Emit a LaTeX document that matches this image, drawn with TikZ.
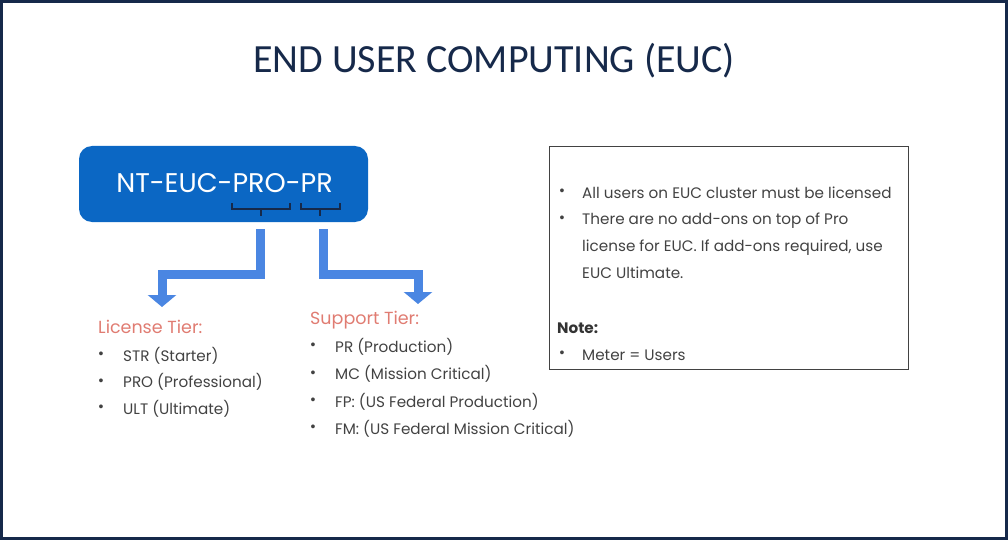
\documentclass[tikz,border=0pt]{standalone}
\usepackage{fontspec}
\setmainfont{Poppins}
\newfontfamily\titlefont{Carlito}
\newfontfamily\dotfont{Liberation Sans}
\usetikzlibrary{arrows.meta, positioning}

\definecolor{navy}{HTML}{16294A}
\definecolor{skublue}{HTML}{0B67C4}
\definecolor{flowblue}{HTML}{4A86E2}
\definecolor{tiersalmon}{HTML}{E07C72}
\definecolor{bodygray}{HTML}{424242}

\begin{document}
\begin{tikzpicture}[
    x=1pt, y=-1pt,
    every node/.style={inner sep=0pt, text=bodygray},
    item/.style={anchor=base west, font=\fontsize{15.2}{18}\selectfont},
    dot/.style={anchor=base, font=\dotfont\fontsize{14}{16}\selectfont},
    tier/.style={anchor=base west, text=tiersalmon, font=\fontsize{17.5}{20}\selectfont},
    flow/.style={draw=flowblue, line width=9pt, -{Triangle[width=28pt, length=12pt]}},
    brace/.style={draw=navy, line width=2.4pt}
]

\useasboundingbox (0,0) rectangle (1008,540);
\draw[navy, line width=3pt] (1.5,1.5) rectangle (1006.5,538.5);

% title
\node (title) [anchor=base, text=navy, font=\titlefont\fontsize{40}{46}\selectfont] at (494,73) {END USER COMPUTING (EUC)};

% part number
\node (sku) [fill=skublue, rounded corners=13pt, minimum width=289pt, minimum height=76pt] at (223.5,184) {};
\node (skutext) [anchor=base, text=white, font=\fontsize{27}{30}\selectfont] at (224.5,193) {NT-EUC-PRO-PR};

\draw[brace] (232,203) -- (232,209) -- (290,209) -- (290,203) (261,209) -- (261,216);
\draw[brace] (301,203) -- (301,209) -- (340,209) -- (340,203) (320,209) -- (320,216);

\coordinate (licstart) at (260.5,229);
\coordinate (lictip) at (162,307);
\coordinate (supstart) at (323,229);
\coordinate (suptip) at (418,304);

\draw[flow] (licstart) -- ++(0,45) -| (lictip);
\draw[flow] (supstart) -- ++(0,45) -| (suptip);

% license tier
\node (lic) [tier] at (98,333) {License Tier:};
\node (lic1) [item] at (123,361) {STR (Starter)};
\node (lic2) [item] at (123,387.5) {PRO (Professional)};
\node (lic3) [item] at (123,414) {ULT (Ultimate)};
\node [dot] at (101,358.5) {•};
\node [dot] at (101,385) {•};
\node [dot] at (101,411.5) {•};

% support tier
\node (sup) [tier] at (310,324) {Support Tier:};
\node (sup1) [item] at (335,352) {PR (Production)};
\node (sup2) [item] at (335,379.5) {MC (Mission Critical)};
\node (sup3) [item] at (335,407) {FP: (US Federal Production)};
\node (sup4) [item] at (335,434) {FM: (US Federal Mission Critical)};
\node [dot] at (313,349.5) {•};
\node [dot] at (313,377) {•};
\node [dot] at (313,404.5) {•};
\node [dot] at (313,431.5) {•};

% notes
\node (notes) [draw=bodygray, line width=0.8pt, minimum width=359pt, minimum height=223pt] at (728.5,257.5) {};
\node (note1) [item] at (582,198) {All users on EUC cluster must be licensed};
\node (note2) [item] at (582,224.5) {There are no add-ons on top of Pro};
\node (note3) [item] at (582,251) {license for EUC. If add-ons required, use};
\node (note4) [item] at (582,278) {EUC Ultimate.};
\node (note) [item, font=\bfseries\fontsize{15.2}{18}\selectfont, text=black!80] at (557,333) {Note:};
\node (meter) [item] at (582,360) {Meter = Users};
\node [dot] at (562,195.5) {•};
\node [dot] at (562,222) {•};
\node [dot] at (562,357.5) {•};

\end{tikzpicture}
\end{document}
